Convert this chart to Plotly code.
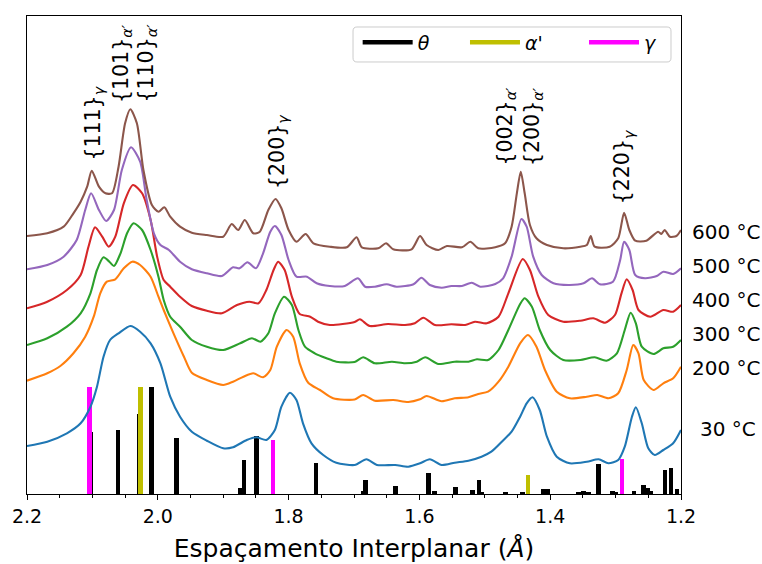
import plotly.graph_objects as go

# Stacked diffractograms: d-spacing (Å) and offset intensity (a.u.) per annealing temperature
d_30 = [2.200, 2.169, 2.139, 2.118, 2.103, 2.093, 2.083, 2.073, 2.060, 2.042, 2.027, 2.011, 1.996,
        1.981, 1.966, 1.948, 1.925, 1.900, 1.885, 1.864, 1.849, 1.834, 1.821, 1.811, 1.798, 1.788,
        1.778, 1.765, 1.747, 1.727, 1.699, 1.681, 1.665, 1.637, 1.617, 1.599, 1.584, 1.566, 1.546,
        1.525, 1.505, 1.490, 1.474, 1.459, 1.446, 1.436, 1.427, 1.416, 1.405, 1.390, 1.370, 1.344,
        1.326, 1.311, 1.296, 1.286, 1.275, 1.269, 1.260, 1.250, 1.240, 1.227, 1.212, 1.200]
i_30 = [48, 52.3, 60.7, 70.7, 87.3, 107.3, 137.3, 154, 160.7, 168, 162.3, 150.7, 130.7,
        97.3, 77.3, 62.3, 53.3, 45.7, 46.7, 54, 56.7, 54, 64, 87.3, 101.3, 94,
        70.7, 50.7, 39, 31.3, 29, 34.7, 29, 29, 27.3, 30.7, 34.7, 29, 31.3,
        33.3, 37.3, 42.3, 52.3, 62.3, 77.3, 90.7, 96.7, 84, 57.3, 37.3, 30.7, 32.3,
        34.7, 30.7, 34, 47.3, 77.3, 86.7, 70.7, 45.7, 39, 44, 50.7, 64]

d_200 = [2.200, 2.169, 2.149, 2.129, 2.111, 2.098, 2.088, 2.078, 2.065, 2.052, 2.039, 2.027, 2.011,
         1.999, 1.991, 1.976, 1.960, 1.948, 1.925, 1.900, 1.885, 1.869, 1.854, 1.839, 1.828, 1.818,
         1.803, 1.793, 1.783, 1.770, 1.752, 1.732, 1.699, 1.686, 1.668, 1.640, 1.617, 1.599, 1.589,
         1.566, 1.546, 1.525, 1.510, 1.495, 1.479, 1.464, 1.446, 1.434, 1.421, 1.408, 1.390, 1.370,
         1.344, 1.328, 1.311, 1.296, 1.283, 1.273, 1.265, 1.257, 1.242, 1.227, 1.212, 1.200]
i_200 = [113.3, 120.7, 128, 140.7, 157.3, 177.3, 200.7, 212.3, 214.7, 225.7, 232.3, 229, 217.3,
         197.3, 184, 160.7, 137.3, 121.3, 114, 109, 112.3, 117.3, 120.7, 116.7, 124, 147.3,
         164, 157.3, 130.7, 111.3, 104, 95.7, 94.5, 99, 93.3, 94, 92, 94.7, 98,
         92.7, 95.7, 96.7, 100, 102.3, 112.3, 127.3, 150.7, 159, 147.3, 124, 102.3, 95.7,
         97.3, 99, 95.7, 100.7, 124, 149, 140.7, 114, 104, 110.7, 115.7, 127.3]

d_300 = [2.200, 2.169, 2.139, 2.118, 2.103, 2.093, 2.083, 2.074, 2.067, 2.057, 2.047, 2.037, 2.024,
         2.011, 1.999, 1.991, 1.981, 1.966, 1.948, 1.925, 1.900, 1.874, 1.856, 1.843, 1.831, 1.821,
         1.807, 1.795, 1.785, 1.775, 1.760, 1.742, 1.727, 1.699, 1.686, 1.668, 1.642, 1.622, 1.604,
         1.591, 1.571, 1.546, 1.525, 1.512, 1.495, 1.479, 1.464, 1.446, 1.439, 1.428, 1.416, 1.400,
         1.380, 1.354, 1.332, 1.314, 1.298, 1.286, 1.277, 1.269, 1.260, 1.242, 1.227, 1.212, 1.200]
i_300 = [149, 155.7, 167.3, 180.7, 200.7, 224, 236.7, 232.3, 228, 240.7, 260.7, 270.7, 264,
         244, 217.3, 194, 177.3, 167.3, 154, 147.3, 144, 150.7, 155.7, 152.3, 160.7, 180.7,
         197.3, 189, 164, 147.3, 140.7, 135.7, 132.3, 132, 136.7, 130.7, 132.3, 130.7, 132.3,
         136.7, 130, 132.3, 132.3, 134.7, 134, 144, 164, 190, 195.7, 187.3, 164, 144,
         134, 134, 136.7, 133.3, 140.7, 164, 181.3, 170.7, 147.3, 140, 145.7, 147.3, 154]

d_400 = [2.200, 2.169, 2.139, 2.118, 2.106, 2.096, 2.085, 2.075, 2.065, 2.052, 2.038, 2.024, 2.011,
         2.001, 1.991, 1.981, 1.966, 1.948, 1.925, 1.902, 1.879, 1.860, 1.846, 1.834, 1.823, 1.816,
         1.806, 1.795, 1.783, 1.767, 1.755, 1.737, 1.699, 1.691, 1.676, 1.648, 1.622, 1.607, 1.594,
         1.576, 1.551, 1.530, 1.515, 1.497, 1.479, 1.464, 1.442, 1.431, 1.418, 1.403, 1.380, 1.354,
         1.334, 1.316, 1.301, 1.291, 1.283, 1.274, 1.265, 1.247, 1.227, 1.212, 1.200]
i_400 = [185.7, 192.3, 204, 219, 247.3, 266.7, 257.3, 247.3, 257.3, 290.7, 309, 300.7, 274,
         237.3, 214, 207.3, 197.3, 188, 183.3, 180.7, 189, 192.3, 190.7, 204, 224, 232.3,
         224, 197.3, 180, 177.3, 172.3, 169, 172, 174.7, 168, 170, 169, 170.7, 176.3,
         169, 169.7, 169, 172.3, 170.7, 177.3, 200.7, 235, 224, 197.3, 179, 172.3, 173.3,
         175.7, 171.3, 179, 200.7, 214.7, 204, 184, 177.3, 184, 182.3, 189]

d_500 = [2.200, 2.169, 2.144, 2.124, 2.111, 2.102, 2.090, 2.079, 2.067, 2.055, 2.041, 2.027, 2.017,
         2.006, 1.996, 1.983, 1.966, 1.948, 1.925, 1.902, 1.885, 1.875, 1.863, 1.850, 1.839, 1.828,
         1.821, 1.811, 1.800, 1.788, 1.772, 1.757, 1.737, 1.714, 1.694, 1.683, 1.668, 1.650, 1.635,
         1.609, 1.597, 1.584, 1.566, 1.551, 1.535, 1.520, 1.507, 1.484, 1.472, 1.459, 1.444, 1.436,
         1.426, 1.413, 1.395, 1.370, 1.349, 1.336, 1.324, 1.304, 1.293, 1.287, 1.279, 1.270, 1.255,
         1.237, 1.227, 1.212, 1.200]
i_500 = [224.7, 229, 237.3, 254, 284, 300.7, 284, 273, 284, 324, 346.7, 332.3, 294,
         260.7, 249, 244, 232.3, 224.7, 220.7, 218, 226.7, 225.7, 231.7, 225.7, 240.7, 262.3,
         268, 259, 234, 217.3, 217.3, 210.7, 208, 208, 215.7, 207.3, 207.3, 209.7, 207.3,
         209.7, 216.3, 209, 206.3, 208, 208, 211.3, 207.3, 210, 215.7, 237.3, 275, 267.3,
         237.3, 219, 210.7, 209, 210.7, 215.7, 209.7, 212.3, 234, 252.3, 244, 219, 215.7,
         218, 222.3, 220, 225.7]

d_600 = [2.200, 2.169, 2.144, 2.129, 2.118, 2.108, 2.101, 2.090, 2.080, 2.070, 2.060, 2.050, 2.042,
         2.032, 2.022, 2.009, 1.999, 1.990, 1.981, 1.966, 1.948, 1.925, 1.900, 1.887, 1.877, 1.867,
         1.854, 1.844, 1.831, 1.820, 1.811, 1.800, 1.788, 1.774, 1.762, 1.737, 1.711, 1.696, 1.688,
         1.663, 1.651, 1.640, 1.612, 1.599, 1.589, 1.571, 1.558, 1.535, 1.522, 1.510, 1.484, 1.469,
         1.459, 1.451, 1.445, 1.439, 1.431, 1.421, 1.405, 1.380, 1.354, 1.344, 1.338, 1.332, 1.309,
         1.296, 1.287, 1.279, 1.270, 1.253, 1.235, 1.230, 1.225, 1.217, 1.207, 1.200]
i_600 = [258, 260.7, 267.3, 280.7, 292.3, 307.3, 323.3, 307.3, 300.7, 300.7, 327.3, 370.7, 384.7,
         370.7, 324, 289, 282.3, 286.7, 277.3, 267.3, 261.3, 259, 257.3, 270, 264, 274,
         260.7, 262.3, 284, 295, 285.7, 264, 252.3, 260, 250.7, 247.3, 246.7, 256.7, 246.7,
         245.7, 250.7, 244.7, 244.7, 258, 249, 244, 248, 246.7, 252.3, 245.7, 246.7, 250.7,
         267.3, 300.7, 322.3, 300.7, 269, 255.7, 249, 245.7, 247.3, 249, 258, 247.3, 247.3,
         255.7, 281.3, 264, 253.3, 253.3, 262.3, 260, 264, 257.3, 258, 264]

temperatures = ["30 °C", "200 °C", "300 °C", "400 °C", "500 °C", "600 °C"]
curves = [(d_30, i_30), (d_200, i_200), (d_300, i_300), (d_400, i_400), (d_500, i_500), (d_600, i_600)]

# Reference stick patterns (d-spacing in Å, relative intensity)
theta_d = [2.1025, 2.061, 2.0285, 2.0092, 1.9713, 1.8744, 1.8684, 1.8496, 1.7583, 1.6855, 1.6824,
           1.6366, 1.5863, 1.5766, 1.5443, 1.5188, 1.5089, 1.5050, 1.468, 1.442, 1.4107, 1.4041,
           1.3566, 1.3493, 1.3417, 1.3264, 1.3049, 1.2995, 1.2718, 1.2577, 1.2509, 1.2470, 1.2244,
           1.2153, 1.2061]
theta_h = [62.5, 64, 80, 107, 56, 6, 34, 58, 31, 3, 14,
           8, 21.5, 3.5, 7, 4, 14, 2.5, 2, 2.5, 5, 5,
           2, 3.5, 2.5, 30, 3.5, 2.5, 3, 9, 6.5, 3, 24,
           25.7, 4.7]
alpha_d = [2.0263, 1.434]
alpha_h = [107, 19.5]
gamma_d = [2.104, 1.8237, 1.2904]
gamma_h = [107, 54, 35]

# Miller-index labels of the main reflections
peak_text = ["{111}<sub><i>γ</i></sub>", "{101}<sub><i>α′</i></sub>", "{110}<sub><i>α′</i></sub>",
             "{200}<sub><i>γ</i></sub>", "{002}<sub><i>α′</i></sub>", "{200}<sub><i>α′</i></sub>",
             "{220}<sub><i>γ</i></sub>"]
peak_d = [2.099, 2.055, 2.016, 1.817, 1.469, 1.427, 1.289]

# Styling
line_colors = ["#1f77b4", "#ff7f0e", "#2ca02c", "#d62728", "#9467bd", "#8c564b"]
label_y = [65, 126.3, 159.7, 194, 228, 262.3]
label_shift = [17, 9, 9, 9, 9, 9]
peak_label_base = [331, 389.3, 389.3, 303, 326, 326, 288]
legend_x = [0.5056, 0.6697, 0.8517]
FONT = "DejaVu Sans"

fig = go.Figure()

for (d, inten), color in zip(curves, line_colors):
    fig.add_trace(go.Scatter(
        x=d, y=inten, mode="lines",
        line=dict(color=color, width=2.1, shape="spline", smoothing=0.7),
        showlegend=False, hoverinfo="skip",
    ))

phases = [
    ("<i>θ</i>", theta_d, theta_h, "black"),
    ("<i>α</i>'", alpha_d, alpha_h, "#bfbf00"),
    ("<i>γ</i>", gamma_d, gamma_h, "#ff00ff"),
]
for name, d, h, color in phases:
    fig.add_trace(go.Bar(
        x=d, y=h, width=0.0072,
        marker=dict(color=color, line=dict(width=0)),
        showlegend=False, hoverinfo="skip",
    ))

# one legend per phase so the entries can be spaced freely inside a common frame
legend_names = ["legend", "legend2", "legend3"]
for (name, d, h, color), lg in zip(phases, legend_names):
    fig.add_trace(go.Scatter(
        x=[None], y=[None], mode="lines", name=name, legend=lg,
        line=dict(color=color, width=4.5),
    ))

# rounded legend frame (paper coordinates)
x0, x1, y0, y1 = 0.4985, 0.9847, 0.9038, 0.977
rx, ry = 0.006, 0.0084
frame = (f"M {x0 + rx},{y1} L {x1 - rx},{y1} Q {x1},{y1} {x1},{y1 - ry} "
         f"L {x1},{y0 + ry} Q {x1},{y0} {x1 - rx},{y0} L {x0 + rx},{y0} "
         f"Q {x0},{y0} {x0},{y0 + ry} L {x0},{y1 - ry} Q {x0},{y1} {x0 + rx},{y1} Z")
fig.add_shape(type="path", path=frame, xref="paper", yref="paper",
              line=dict(color="#cccccc", width=1), fillcolor="rgba(255,255,255,0.8)",
              layer="above")

for temp, y, dx in zip(temperatures, label_y, label_shift):
    fig.add_annotation(
        text=temp, xref="paper", x=1, xanchor="left", xshift=dx,
        yref="y", y=y, yanchor="middle", showarrow=False,
        font=dict(size=20, color="black", family=FONT),
    )

for text, d, base in zip(peak_text, peak_d, peak_label_base):
    fig.add_annotation(
        text=text, x=d, y=base, xref="x", yref="y",
        xanchor="center", yanchor="bottom", textangle=-90, showarrow=False,
        font=dict(size=20.5, color="black", family=FONT),
    )

legend_style = dict(
    orientation="h", xanchor="left", y=0.9446, yanchor="middle",
    borderwidth=0, bgcolor="rgba(0,0,0,0)",
    font=dict(size=19, family=FONT, color="black"), itemwidth=50,
)

fig.update_layout(
    width=762, height=564,
    margin=dict(l=27, r=81, t=16, b=70),
    paper_bgcolor="white", plot_bgcolor="white",
    font=dict(family=FONT, color="black", size=19),
    barmode="overlay", bargap=0,
    showlegend=True,
    legend=dict(x=legend_x[0], **legend_style),
    legend2=dict(x=legend_x[1], **legend_style),
    legend3=dict(x=legend_x[2], **legend_style),
    xaxis=dict(
        range=[2.2, 1.2], automargin=False,
        tickmode="array", tickvals=[2.2, 2.0, 1.8, 1.6, 1.4, 1.2],
        ticktext=["2.2", "2.0", "1.8", "1.6", "1.4", "1.2"],
        ticks="outside", ticklen=5, tickwidth=1.1, tickcolor="black",
        tickfont=dict(size=19, family=FONT),
        minor=dict(tickmode="linear", tick0=1.2, dtick=0.05, ticks="outside",
                   ticklen=3, tickwidth=1, tickcolor="black", showgrid=False),
        showline=True, linecolor="black", linewidth=1.1, mirror=True,
        showgrid=False, zeroline=False,
        title=dict(text="Espaçamento Interplanar (<i>Å</i>)",
                   font=dict(size=25, family=FONT), standoff=13),
    ),
    yaxis=dict(
        range=[0, 478], showticklabels=False, ticks="", automargin=False,
        showline=True, linecolor="black", linewidth=1.1, mirror=True,
        showgrid=False, zeroline=False,
    ),
)

fig.write_html("out.html")
